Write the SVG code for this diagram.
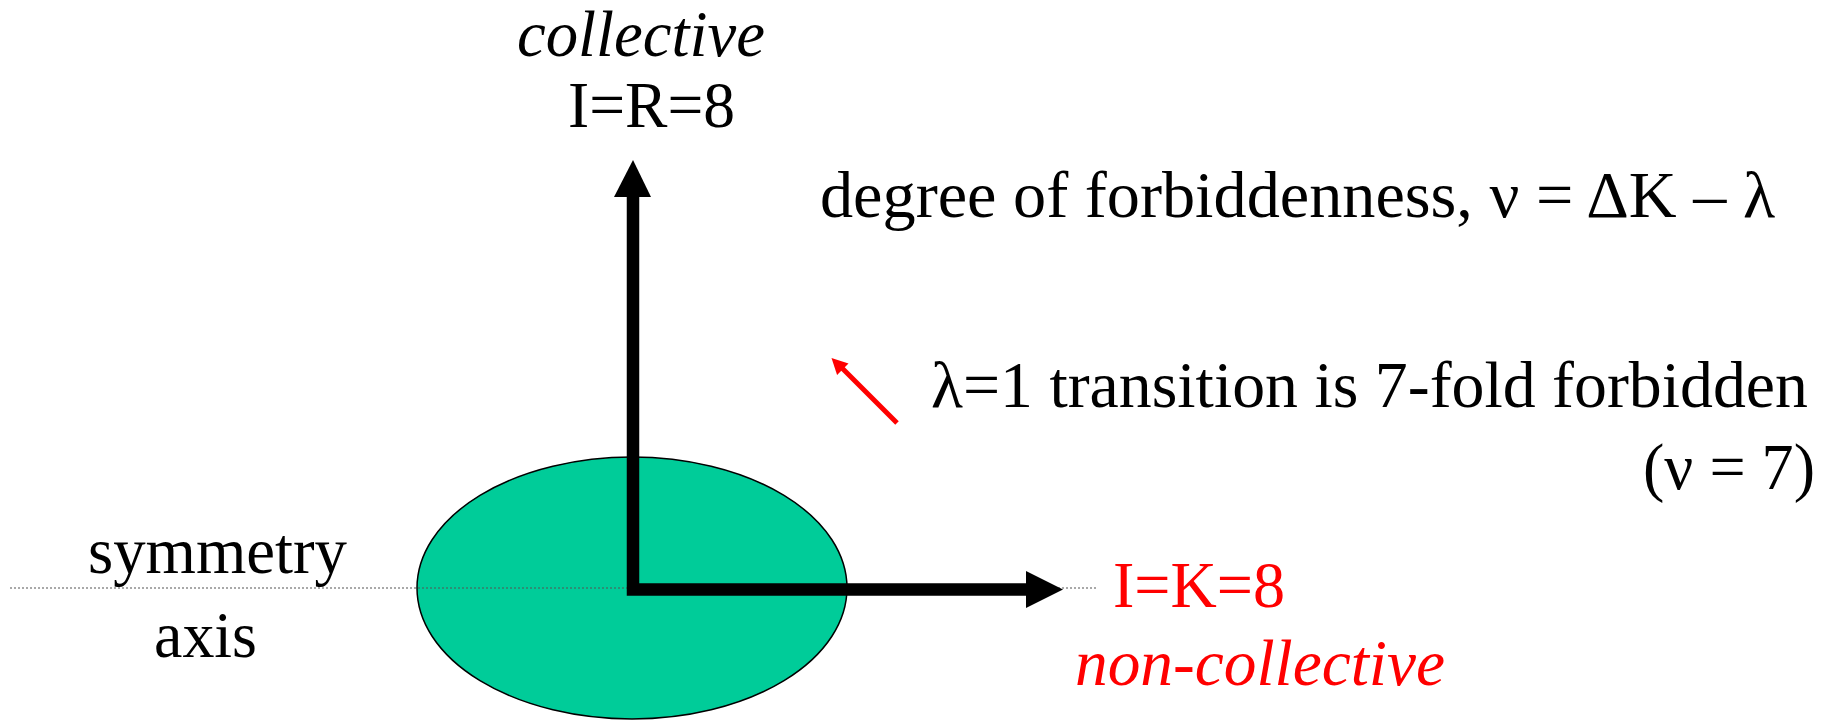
<svg xmlns="http://www.w3.org/2000/svg" width="1834" height="721" viewBox="0 0 1834 721">
<style>
  text { font-family: "Liberation Serif", "Times New Roman", serif; font-size: 66px; fill: #000; }
  .i { font-style: italic; }
  .red { fill: #FF0000; }
</style>
<rect x="0" y="0" width="1834" height="721" fill="#fff"/>
<g id="nucleus">
  <ellipse cx="632" cy="588" rx="215" ry="131" fill="#00CC99" stroke="#000" stroke-width="1.5"/>
</g>
<g id="symmetry-axis">
  <line x1="10" y1="588" x2="1097" y2="588" stroke="#555" stroke-width="1.2" stroke-dasharray="2 2"/>
  <text x="88" y="573" textLength="259" lengthAdjust="spacingAndGlyphs">symmetry</text>
  <text x="154" y="657" textLength="103" lengthAdjust="spacingAndGlyphs">axis</text>
</g>
<g id="connectors">
  <path d="M633,196 V589.5 H1027" fill="none" stroke="#000" stroke-width="12.5" stroke-linejoin="miter"/>
  <polygon points="633,160 614,197 651,197" fill="#000"/>
  <polygon points="1063,589.5 1026,571 1026,608" fill="#000"/>
  <line x1="897" y1="423" x2="842" y2="368" stroke="#FF0000" stroke-width="5"/>
  <polygon points="831.5,358 848.5,363.6 837.1,375" fill="#FF0000"/>
</g>
<g id="collective-label">
  <text class="i" x="517" y="56" textLength="248" lengthAdjust="spacingAndGlyphs">collective</text>
  <text x="568" y="127" textLength="167" lengthAdjust="spacingAndGlyphs">I=R=8</text>
</g>
<g id="forbiddenness">
  <text x="820" y="217" textLength="955" lengthAdjust="spacingAndGlyphs">degree of forbiddenness, ν = ΔK – λ</text>
</g>
<g id="transition">
  <text x="931" y="407" textLength="877" lengthAdjust="spacingAndGlyphs">λ=1 transition is 7-fold forbidden</text>
  <text x="1643" y="489" textLength="172" lengthAdjust="spacingAndGlyphs">(ν = 7)</text>
</g>
<g id="noncollective-label">
  <text class="red" x="1113" y="607" textLength="172" lengthAdjust="spacingAndGlyphs">I=K=8</text>
  <text class="i red" x="1075" y="685" textLength="370" lengthAdjust="spacingAndGlyphs">non-collective</text>
</g>
</svg>
